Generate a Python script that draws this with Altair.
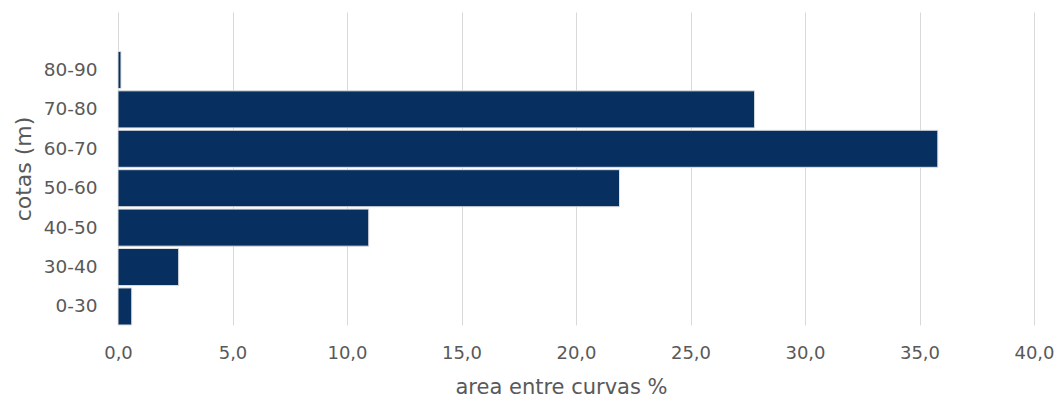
import altair as alt
import pandas as pd

categories = ["0-30", "30-40", "40-50", "50-60", "60-70", "70-80", "80-90"]
values = [0.6, 2.65, 10.95, 21.9, 35.8, 27.8, 0.13]
x_ticks = [0, 5, 10, 15, 20, 25, 30, 35, 40]

df = pd.DataFrame({"cota": categories, "area": values})
y_domain = [" "] + categories[::-1]

FONT = "DejaVu Sans"
TEXT = "#595959"

chart = alt.Chart(df).mark_bar(
    color="#072F5F", stroke="#E0E0E0", strokeWidth=1
).encode(
    x=alt.X(
        "area:Q",
        scale=alt.Scale(domain=[0, 40], nice=False),
        axis=alt.Axis(
            values=x_ticks,
            labelExpr="replace(format(datum.value, '.1f'), '.', ',')",
            labelFlush=False,
            title="area entre curvas %",
            titleX=443,
            titleAlign="center",
            titleAnchor="start",
            grid=True,
            gridColor="#D9D9D9",
            domain=False,
            ticks=False,
            labelPadding=19,
            titlePadding=14,
            labelFontSize=18,
            titleFontSize=21,
            titleFontWeight="normal",
            labelColor=TEXT,
            titleColor=TEXT,
            labelFont=FONT,
            titleFont=FONT,
        ),
    ),
    y=alt.Y(
        "cota:N",
        sort=y_domain,
        scale=alt.Scale(domain=y_domain, paddingInner=0.06, paddingOuter=0),
        axis=alt.Axis(
            title="cotas (m)",
            domain=False,
            ticks=False,
            grid=False,
            labelPadding=21,
            titlePadding=8,
            labelFontSize=18.5,
            titleFontSize=22,
            titleFontWeight="normal",
            labelColor=TEXT,
            titleColor=TEXT,
            labelFont=FONT,
            titleFont=FONT,
        ),
    ),
).properties(
    width=916,
    height=313,
    autosize=alt.AutoSizeParams(type="none"),
    padding={"left": 118, "top": 12, "right": 25, "bottom": 76},
).configure_view(stroke=None)

chart.save("out.html", embed_options={"renderer": "svg", "actions": False})
